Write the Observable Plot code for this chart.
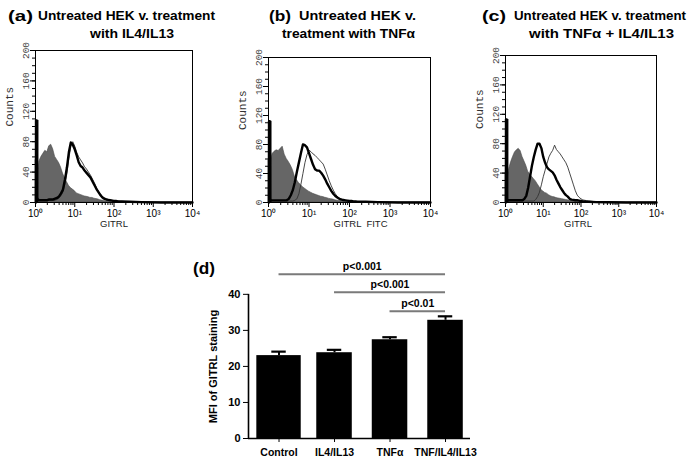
<!DOCTYPE html>
<html><head><meta charset="utf-8">
<script src="https://cdn.jsdelivr.net/npm/d3@7"></script>
<script src="https://cdn.jsdelivr.net/npm/@observablehq/plot@0.6"></script>
<style>
body{margin:0;background:#fff}
#root{position:relative;width:693px;height:465px;overflow:hidden;font-family:"Liberation Sans",Arial,sans-serif;background:#fff}
</style>
</head><body><div id="root"></div>
<script>
// ---------- data: flow histograms (x = decade exponent of fluorescence, y = counts) ----------
const expo = [0.01,0.013,0.03,0.035,0.06,0.08,0.1,0.15,0.2,0.25,0.3,0.35,0.4,0.45,0.5,0.55,0.6,0.65,0.7,0.75,0.8,0.85,0.9,0.95,1.0,1.05,1.1,1.15,1.2,1.25,1.3,1.35,1.4,1.45,1.5,1.55,1.6,1.65,1.7,1.75,1.8,1.85,1.9,1.95,2.0,2.05,2.1,2.15,2.2,2.4,2.7,3.2,4];

const aGray  = [56,56,55,52,46,44,54,60,64,68,66,74,76,70,60,56,52,46,38,32,27,22,19,17,15,12,11,10,9,8,7.5,7,6,6,5,4.5,4,3,2.5,2,1.5,1.2,1,0.8,0.6,0.5,0.4,0.3,0.2,0.1,0,0,0];
const aThick = [0,108,108,6,4,3.5,3,3,3,3,3,4,4,4,5,6,8,12,17,30,46,66,79,76,70,62,53,48,46,42,39,36,33,28,23,18,14,10,7,5,4,3.5,3,2.5,2,2,1.5,1.5,1.5,1,0.5,0,0];
const aThin  = [0,100,100,5,3,2.5,2.5,2.5,2.5,2.5,2.5,2.5,2.5,2.5,3,4,6,9,14,24,38,58,74,80,74,66,60,56,52,47,44,40,36,31,26,20,15,11,8,6,5,4,3.5,3,2.5,2,2,1.5,1.5,1,0.5,0,0];

const bGray  = [58,58,57,55,57,62,67,70,72,71,74,77,66,60,56,51,45,36,31,27,24,21,19,17,15,13.5,12,11,10,9,8,7.5,6.5,6,5,4.5,4,3,2.5,2,1.8,1.5,1.2,1,0.8,0.6,0.5,0.4,0.3,0.2,0,0,0];
const bThick = [0,112,112,5,3,3,3,3,3,3,3,3,3,3,5,10,17,28,42,55,68,80,79,76,68,60,52,46,44,44,41,37,32,26,21,16,12,9,7,5,4,3.5,3,2.5,2,2,1.5,1.5,1,1,0.5,0,0];
const bThin  = [0,100,100,4,2,2,2,2,2,2,2,2,2,2,2,2,2,3,5,12,25,40,55,66,72,70,67,65,62,59,56,53,46,38,30,23,17,12,8,6,5,4,3,2.5,2,2,1.5,1.5,1,1,0.5,0,0];

const cGray  = [40,40,35,30,34,40,46,55,62,68,71,73,70,62,56,50,42,38,35,32,29,25,21,17,15,13,12,10,8.5,7.5,7,6,5.5,5,4.5,4,3.5,3,2.5,2,1.5,1.2,1,0.8,0.6,0.5,0.4,0.3,0.2,0.1,0,0,0];
const cThick = [0,113,113,5,3,3,3,3,3,3,3,3,3,3,5,9,20,35,50,62,72,80,80,74,62,54,48,45,43,41,37,31,26,21,17,13,10,8,5,4,3.5,3,3,2.5,2,1.5,1.5,1,1,0.5,0.3,0,0];
const cThin  = [0,95,95,4,2,2,2,2,2,2,2,2,2,2,2,2,2,2,2,2,4,8,14,24,35,44,53,62,67,71,78,72,69,66,62,58,54,48,40,32,24,16,10,7,5,3.5,3,2.5,2,1,0.5,0,0];

// first-bin (off-scale low) event counts of the thick-line sample, per panel
const firstBin = [108, 112, 113];

const histTitles = [
  ["(a)", "Untreated HEK v. treatment", "with IL4/IL13"],
  ["(b)", "Untreated HEK v.", "treatment with TNFα"],
  ["(c)", "Untreated HEK v. treatment", "with TNFα + IL4/IL13"]
];
const histXLabels = ["GITRL", "GITRL  FITC", "GITRL"];
const countTicks = [0, 40, 80, 120, 160, 200];
const countMinor = [0,10,20,30,40,50,60,70,80,90,100,110,120,130,140,150,160,170,180,190,200];
const decadeTicks = [1, 10, 100, 1000, 10000];
const decadeLabels = ["10⁰", "10¹", "10²", "10³", "10⁴"];
const minorDecade = [2,3,4,5,6,7,8,9,20,30,40,50,60,70,80,90,200,300,400,500,600,700,800,900,2000,3000,4000,5000,6000,7000,8000,9000];

// ---------- data: bar chart (d) ----------
const groups = ["Control", "IL4/IL13", "TNFα", "TNF/IL4/IL13"];
const mfi = [23.0, 23.8, 27.4, 32.8];
const mfiErr = [1.1, 0.8, 0.7, 1.1];
const mfiTicks = [0, 10, 20, 30, 40];
const sigFrom = [0, 1, 2];
const sigTo = [3, 3, 3];
const sigLevel = [45.6, 40.6, 35.3];
const sigText = ["p<0.001", "p<0.001", "p<0.01"];

// ---------- layout ----------
const root = document.getElementById("root");
function place(node, left, top) {
  node.style.position = "absolute";
  node.style.left = left + "px";
  node.style.top = top + "px";
  root.appendChild(node);
}

const panels = [
  {gray: aGray, thick: aThick, thin: aThin, left: 0,   mL: 35, mR: 39, mT: 10, xdx: 0},
  {gray: bGray, thick: bThick, thin: bThin, left: 231, mL: 37, mR: 32, mT: 17, xdx: 11},
  {gray: cGray, thick: cThick, thin: cThin, left: 462, mL: 43, mR: 37, mT: 15, xdx: -3}
];

panels.forEach((p, k) => {
  const rows = expo.map((e, i) => ({fl: 10 ** e, gray: p.gray[i], thick: p.thick[i], thin: p.thin[i]}));
  const svg = Plot.plot({
    width: 231, height: 190,
    marginLeft: p.mL, marginRight: p.mR, marginTop: p.mT, marginBottom: 28,
    style: {fontFamily: "Liberation Sans, Arial, sans-serif", background: "transparent", overflow: "visible"},
    x: {type: "log", domain: [1, 10000], label: null},
    y: {domain: [0, 200], label: null},
    marks: [
      Plot.areaY(rows, {x: "fl", y: "gray", fill: "#666", stroke: "#4a4a4a", strokeWidth: 0.6}),
      Plot.lineY(rows, {x: "fl", y: "thin", stroke: "#333", strokeWidth: 0.9}),
      Plot.lineY(rows, {x: "fl", y: "thick", stroke: "#000", strokeWidth: 2.4}),
      Plot.ruleX([firstBin[k]], {x: () => 1.09, y1: 0, y2: (d) => d, stroke: "#000", strokeWidth: 3}),
      Plot.frame({stroke: "#000", strokeWidth: 1}),
      Plot.axisX({ticks: minorDecade, tickSize: 3, tickFormat: () => "", label: null}),
      Plot.axisX({ticks: decadeTicks, tickSize: 5, tickPadding: 2, fontSize: 10,
                  tickFormat: (d) => decadeLabels[decadeTicks.indexOf(d)], label: null}),
      Plot.axisY({ticks: countMinor, tickSize: 3, tickFormat: () => "", label: null}),
      Plot.axisY({ticks: countTicks, tickSize: 5, tickPadding: 2, tickRotate: -90,
                  fontFamily: "Liberation Mono, DejaVu Sans Mono, monospace", fontSize: 9.5, fill: "#444", label: null}),
      Plot.text(["Counts"], {frameAnchor: "left", rotate: -90, dx: -26,
                  fontFamily: "Liberation Mono, DejaVu Sans Mono, monospace", fontSize: 11, fill: "#333"}),
      Plot.text([histXLabels[k]], {frameAnchor: "bottom", dy: 24, dx: p.xdx, fontSize: 9.5, fill: "#222"})
    ]
  });
  place(svg, p.left, 40);
});

// bar chart
const barRows = groups.map((g, i) => ({i, g, v: mfi[i], e: mfiErr[i]}));
const sigRows = sigFrom.map((f, j) => ({f, t: sigTo[j], y: sigLevel[j], s: sigText[j]}));
const halfW = (i) => (i === 0 ? 0.40 : 0.32);
const barSvg = Plot.plot({
  width: 300, height: 215,
  marginLeft: 58, marginRight: 20, marginTop: 15, marginBottom: 27,
  style: {fontFamily: "Liberation Sans, Arial, sans-serif", background: "transparent", overflow: "visible"},
  x: {domain: [-0.55, 3.45], label: null},
  y: {domain: [0, 48], label: null},
  marks: [
    Plot.rectY(barRows, {x1: (d) => d.i - halfW(d.i), x2: (d) => d.i + halfW(d.i), y1: 0, y2: "v", fill: "#000"}),
    Plot.ruleX(barRows, {x: "i", y1: "v", y2: (d) => d.v + d.e, stroke: "#000", strokeWidth: 2}),
    Plot.ruleY(barRows, {y: (d) => d.v + d.e, x1: (d) => d.i - 0.13, x2: (d) => d.i + 0.13, stroke: "#000", strokeWidth: 2.2}),
    Plot.ruleY([0], {stroke: "#000", strokeWidth: 1.6}),
    Plot.ruleX([-0.55], {y1: 0, y2: 40, stroke: "#000", strokeWidth: 1.6}),
    Plot.axisY({ticks: mfiTicks, tickSize: 5, tickPadding: 3, fontWeight: "bold", fontSize: 11, label: null}),
    Plot.axisX({ticks: [0, 1, 2, 3], tickSize: 4, tickPadding: 6, fontWeight: "bold", fontSize: 10.5,
                tickFormat: (i) => groups[i], label: null}),
    Plot.ruleY(sigRows, {y: "y", x1: "f", x2: "t", stroke: "#7a7a7a", strokeWidth: 2}),
    Plot.text(sigRows, {x: (d) => (d.f + d.t) / 2, y: "y", text: "s", dy: -8, fontWeight: "bold", fontSize: 10.5}),
    Plot.text(["MFI of GITRL staining"], {x: -0.55, y: 20, rotate: -90, dx: -35, fontWeight: "bold", fontSize: 11})
  ]
});
place(barSvg, 190, 250);

// titles overlay
const ov = d3.create("svg").attr("width", 693).attr("height", 465)
  .style("position", "absolute").style("left", "0px").style("top", "0px").style("pointer-events", "none")
  .attr("font-family", "Liberation Sans, Arial, sans-serif").attr("font-weight", "bold").attr("fill", "#000");
const titleLayout = [
  [{x: 8, y: 21, w: 25, fs: 15.5}, {x: 38, y: 20, w: 177, fs: 12.5}, {x: 90, y: 38, w: 84, fs: 12.5}],
  [{x: 269, y: 21, w: 22, fs: 15.5}, {x: 299, y: 20, w: 117, fs: 12.5}, {x: 282, y: 38, w: 133, fs: 12.5}],
  [{x: 482, y: 21, w: 24, fs: 15.5}, {x: 514, y: 20, w: 172, fs: 12.5}, {x: 529, y: 38, w: 145, fs: 12.5}]
];
histTitles.forEach((parts, k) => {
  parts.forEach((s, j) => {
    const L = titleLayout[k][j];
    ov.append("text").attr("x", L.x).attr("y", L.y).attr("font-size", L.fs)
      .attr("textLength", L.w).attr("lengthAdjust", "spacingAndGlyphs").text(s);
  });
});
ov.append("text").attr("x", 193).attr("y", 274).attr("font-size", 16).attr("textLength", 22)
  .attr("lengthAdjust", "spacingAndGlyphs").text("(d)");
root.appendChild(ov.node());
</script>
</body></html>
